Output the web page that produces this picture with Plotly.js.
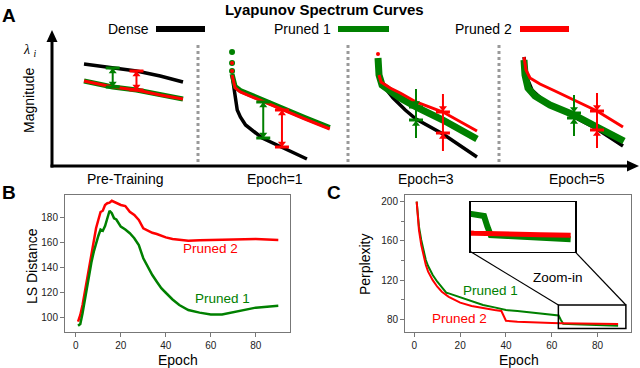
<!DOCTYPE html>
<html>
<head>
<meta charset="utf-8">
<script src="https://cdn.plot.ly/plotly-3.0.1.min.js"></script>
<style>
body { margin: 0; background: #fff; }
#chart { width: 640px; height: 368px; }
</style>
</head>
<body>
<div id="chart"></div>
<script>
// ---- panel A: Lyapunov spectra (index along spectrum, magnitude), one list per section
var sectionNames = ['Pre-Training', 'Epoch=1', 'Epoch=3', 'Epoch=5'];

var denseX = [[0, 29, 53, 77, 100],
              [1, 3, 6, 9, 14, 30, 49, 73],
              [1, 3, 8, 16, 28, 38.6, 65.3, 99],
              [0, 3, 8, 21, 50, 73, 99]];
var denseY = [[102, 98, 95, 90, 84],
              [91, 76, 56, 49, 41, 28, 19, 7],
              [106, 86, 78, 68, 56, 47, 32, 9],
              [109, 88, 76, 64, 49, 37, 20]];

var p1X = [[0, 29, 53, 77, 100],
           [1, 4, 9, 18, 31, 49, 71, 95],
           [1, 2, 5, 15, 23, 38.6, 65.3, 99],
           [0, 1, 4, 11, 26, 50, 73, 100]];
var p1Y = [[85, 79, 76, 71, 67],
           [92, 79.5, 75.5, 71.5, 65.5, 57.5, 48.5, 38.5],
           [108, 91, 81, 73, 68, 59, 46, 27],
           [106, 91, 78, 70, 61, 51, 39, 25]];

var p2X = [[0, 29, 53, 77, 100],
           [1, 4, 9, 18, 31, 49, 71, 95],
           [2, 4, 13, 23, 38.6, 65.3, 99],
           [0, 2, 6, 16, 31, 50, 73, 99]];
var p2Y = [[85, 79, 76, 71, 67],
           [91, 78, 74, 70, 64, 56, 47, 37],
           [91, 84, 78, 73, 64, 54, 35],
           [109, 96, 88, 82, 75, 66, 55, 39]];

// isolated largest exponents at the top of a spectrum
var topIdx = [0, 1, 1, 0];
var p1Top = [[], [114, 103, 95], [], []];
var p2Top = [[], [103, 95], [112], []];

// measured gaps between pruned and dense spectra
var gapSec = [0, 0, 1, 1, 2, 2, 3, 3];
var gapOf = ['p1', 'p2', 'p1', 'p2', 'p1', 'p2', 'p1', 'p2'];
var gapIdx = [29, 53, 31, 49, 38.6, 65.3, 50, 73];
var gapTop = [98, 95, 64, 56, 59, 54, 53, 55];
var gapBot = [79, 76, 28, 19, 46, 33, 48, 36];

// ---- panel B: LS distance vs epoch
var bEpoch = [1, 2, 3, 4, 5, 6, 7, 8, 9, 10, 11, 12, 13, 14, 15, 16, 17, 18, 20, 22, 24, 26, 28,
              30, 32, 34, 36, 38, 40, 43, 46, 50, 55, 60, 65, 70, 75, 80, 85, 90];
var bPruned1 = [93, 94.4, 103, 113.6, 124.3, 135, 144.3, 152.3, 159, 164.8, 170, 169, 172.8, 178, 185,
                183, 179, 178, 172.3, 170, 167, 163, 157.6, 147, 139.8, 133.6, 128.2, 123, 119.4,
                114, 109.6, 105.6, 103.5, 102.1, 102.1, 103.8, 105.6, 107.5, 108.3, 109];
var bPruned2 = [96.3, 101.6, 109.6, 120.3, 131, 140, 149.6, 160, 171, 177.6, 184, 185, 189.6, 191, 191.5,
                193, 192, 191, 189.6, 188.8, 184.2, 181.6, 177.6, 171, 169, 167.4, 166.4, 164.8, 163.7,
                162.4, 161.6, 161, 161.3, 161.6, 161.9, 162.1, 162.4, 162.4, 161.9, 161.6];

// ---- panel C: perplexity vs epoch
var cEpoch1 = [1, 2, 3, 4, 5, 6, 8, 10, 12, 14, 15, 20, 25, 30, 35, 40, 45, 50, 55, 60, 63, 64, 65, 70, 80, 89];
var cPruned1 = [200, 174.5, 160.9, 149, 140.5, 134.4, 125.2, 118.4, 112.6, 107.1, 106.5, 102.4, 98, 94.6,
                92.2, 89.5, 88.5, 87.1, 86.1, 84.7, 84, 79.3, 75.4, 75, 74.2, 73.5];
var cEpoch2 = [1, 2, 3, 4, 5, 6, 8, 10, 12, 15, 20, 25, 30, 35, 38, 39, 40, 45, 50, 60, 64, 70, 80, 89];
var cPruned2 = [200, 171, 155.8, 143.9, 135.4, 128.6, 120, 113.3, 108.2, 103, 97, 93.6, 91.2, 89.5, 88.5,
                82.7, 78.6, 77.6, 76.9, 76.2, 76, 76, 75.6, 75.3];

// zoomed region shown in the inset
var zoomEpochs = [62.9, 92.4];
var zoomPerplexity = [70.8, 94.6];

var GREEN = '#008000', RED = '#ff0000', BLACK = '#000000';
var FONT = 'Liberation Sans, Arial, sans-serif';

function px(x) { return x / 640; }
function py(y) { return 1 - y / 368; }

var traces = [];
var layout = {
  width: 640, height: 368,
  margin: {l: 0, r: 0, t: 0, b: 0},
  paper_bgcolor: '#fff', plot_bgcolor: 'rgba(0,0,0,0)',
  showlegend: false,
  font: {family: FONT, color: '#000'},
  shapes: [], annotations: []
};

// panel A sections
var secLeft = [84, 231, 377, 524];
var secWidth = [99, 104, 101, 100];
var pad = 6;
layout.yaxis = {domain: [py(166), py(40)], range: [0, 126], visible: false, anchor: 'x', fixedrange: true};

for (var k = 0; k < 4; k++) {
  var xa = k === 0 ? 'x' : 'x' + (k + 1);
  var key = k === 0 ? 'xaxis' : 'xaxis' + (k + 1);
  var s = secWidth[k] / 100;
  layout[key] = {domain: [px(secLeft[k] - pad * s), px(secLeft[k] + (100 + pad) * s)],
                 range: [-pad, 100 + pad], visible: false, anchor: 'y'};

  traces.push({x: denseX[k], y: denseY[k], xaxis: xa, yaxis: 'y', mode: 'lines',
               line: {color: BLACK, width: 3.5}});
  traces.push({x: p1X[k], y: p1Y[k], xaxis: xa, yaxis: 'y', mode: 'lines',
               line: {color: GREEN, width: k < 2 ? 5 : 7}});
  traces.push({x: p2X[k], y: p2Y[k], xaxis: xa, yaxis: 'y', mode: 'lines',
               line: {color: RED, width: 3}});
  if (p1Top[k].length) {
    traces.push({x: p1Top[k].map(function() { return topIdx[k]; }), y: p1Top[k], xaxis: xa, yaxis: 'y',
                 mode: 'markers', marker: {color: GREEN, size: 6}, cliponaxis: false});
  }
  if (p2Top[k].length) {
    traces.push({x: p2Top[k].map(function() { return topIdx[k]; }), y: p2Top[k], xaxis: xa, yaxis: 'y',
                 mode: 'markers', marker: {color: RED, size: 4}, cliponaxis: false});
  }
}

// gap bars with caps and arrows
for (var g = 0; g < gapIdx.length; g++) {
  var sec = gapSec[g];
  var xg = sec === 0 ? 'x' : 'x' + (sec + 1);
  var col = gapOf[g] === 'p1' ? GREEN : RED;
  var inner = sec < 2;
  var t = gapTop[g], b = gapBot[g], xi = gapIdx[g];
  traces.push({x: [xi, xi], y: inner ? [t, b] : [t + 18, b - 18], xaxis: xg, yaxis: 'y',
               mode: 'lines', line: {color: col, width: 2}});
  traces.push({x: [xi, xi], y: [t, b], xaxis: xg, yaxis: 'y', mode: 'markers', cliponaxis: false,
               marker: {symbol: 'line-ew', size: 10, line: {color: col, width: 3}}});
  traces.push({x: [xi, xi], y: inner ? [t - 3.5, b + 3.5] : [t + 4, b - 4], xaxis: xg, yaxis: 'y',
               mode: 'markers', cliponaxis: false,
               marker: {symbol: inner ? ['triangle-up', 'triangle-down'] : ['triangle-down', 'triangle-up'],
                        size: 7, color: col}});
}

// panel A axes with arrow heads
layout.shapes.push({type: 'line', xref: 'paper', yref: 'paper', x0: px(52), x1: px(52),
  y0: py(167.5), y1: py(40), line: {color: '#000', width: 3}});
layout.shapes.push({type: 'path', xref: 'paper', yref: 'paper', fillcolor: '#000', line: {width: 0},
  path: 'M' + px(52) + ',' + py(30) + ' L' + px(46.5) + ',' + py(42) + ' L' + px(57.5) + ',' + py(42) + ' Z'});
layout.shapes.push({type: 'line', xref: 'paper', yref: 'paper', x0: px(50.5), x1: px(628),
  y0: py(166), y1: py(166), line: {color: '#000', width: 3}});
layout.shapes.push({type: 'path', xref: 'paper', yref: 'paper', fillcolor: '#000', line: {width: 0},
  path: 'M' + px(639) + ',' + py(166) + ' L' + px(627) + ',' + py(160.5) + ' L' + px(627) + ',' + py(171.5) + ' Z'});

// dotted separators
[198, 348, 499].forEach(function(xs) {
  layout.shapes.push({type: 'line', xref: 'paper', yref: 'paper', x0: px(xs), x1: px(xs),
    y0: py(45), y1: py(165), line: {color: '#999', width: 3, dash: 'dot'}});
});

// legend of panel A
var legNames = ['Dense', 'Pruned 1', 'Pruned 2'];
var legColors = [BLACK, GREEN, RED];
var legText = [128, 302, 483];
var legBar = [[156, 205], [338, 389], [520, 569]];
for (var i = 0; i < 3; i++) {
  layout.annotations.push({xref: 'paper', yref: 'paper', x: px(legText[i]), y: py(29),
    text: legNames[i], showarrow: false, font: {size: 14}, xanchor: 'center', yanchor: 'middle'});
  layout.shapes.push({type: 'line', xref: 'paper', yref: 'paper', x0: px(legBar[i][0]), x1: px(legBar[i][1]),
    y0: py(29), y1: py(29), line: {color: legColors[i], width: 6}});
}

function label(text, x, y, opts) {
  var a = {xref: 'paper', yref: 'paper', x: px(x), y: py(y), text: text, showarrow: false,
           xanchor: 'center', yanchor: 'middle', font: {size: 14}};
  for (var p in opts) a[p] = opts[p];
  layout.annotations.push(a);
}

label('<b>Lyapunov Spectrum Curves</b>', 324, 9, {font: {size: 15}});
label('<b>A</b>', 9, 16, {font: {size: 19}});
label('<b>B</b>', 9, 192, {font: {size: 19}});
label('<b>C</b>', 334, 192, {font: {size: 19}});
label('<i>λ</i> <sub><i>i</i></sub>', 30, 50, {font: {size: 14, family: 'Liberation Serif, serif'}});
label('Magnitude', 29, 100, {textangle: -90});
var secLabelX = [125, 275, 426, 577];
for (var j = 0; j < 4; j++) label(sectionNames[j], secLabelX[j], 179);

// panel B
var axStyle = {showline: true, mirror: true, linecolor: '#777', linewidth: 1, showgrid: false,
               zeroline: false, ticks: 'outside', ticklen: 4, tickcolor: '#777',
               tickfont: {size: 10, color: '#222'}, fixedrange: true};
function ax(extra) { var o = {}; for (var p in axStyle) o[p] = axStyle[p]; for (var q in extra) o[q] = extra[q]; return o; }

layout.xaxis5 = ax({domain: [px(65), px(290)], range: [-4.8, 95.2], anchor: 'y2', tickvals: [0, 20, 40, 60, 80]});
layout.yaxis2 = ax({domain: [py(332), py(195)], range: [88, 197.6], anchor: 'x5', tickvals: [100, 120, 140, 160, 180]});
traces.push({x: bEpoch, y: bPruned2, xaxis: 'x5', yaxis: 'y2', mode: 'lines', line: {color: RED, width: 2.5}});
traces.push({x: bEpoch, y: bPruned1, xaxis: 'x5', yaxis: 'y2', mode: 'lines', line: {color: GREEN, width: 2.5}});
label('Pruned 2', 210, 248, {font: {size: 13.5, color: RED}});
label('Pruned 1', 222.5, 298.5, {font: {size: 13.5, color: GREEN}});
label('LS Distance', 32, 266, {textangle: -90});
label('Epoch', 177.5, 360);

// panel C
var cDomX = [px(405), px(630.7)], cRangeX = [-4.1, 94.5];
var cDomY = [py(332.3), py(195)], cRangeY = [66.8, 206.8];
layout.xaxis6 = ax({domain: cDomX, range: cRangeX, anchor: 'y3', tickvals: [0, 20, 40, 60, 80]});
layout.yaxis3 = ax({domain: cDomY, range: cRangeY, anchor: 'x6', tickvals: [80, 120, 160, 200],
                    minor: {tickvals: [100, 140, 180], ticks: 'outside', ticklen: 3, tickcolor: '#777'}});
traces.push({x: cEpoch1, y: cPruned1, xaxis: 'x6', yaxis: 'y3', mode: 'lines', line: {color: GREEN, width: 2}});
traces.push({x: cEpoch2, y: cPruned2, xaxis: 'x6', yaxis: 'y3', mode: 'lines', line: {color: RED, width: 2}});
label('Pruned 1', 490.8, 290, {font: {size: 13.5, color: GREEN}});
label('Pruned 2', 459, 318, {font: {size: 13.5, color: RED}});
label('Zoom-in', 558, 277, {font: {size: 13.5}});
label('Perplexity', 365, 265, {textangle: -90});
label('Epoch', 518.5, 360);

// inset
var inDomX = [px(470.7), px(575)], inDomY = [py(251.7), py(202.3)];
layout.xaxis7 = {domain: inDomX, range: [59, 90.3], anchor: 'y4', showline: true, mirror: true,
                 linecolor: '#000', linewidth: 1.5, showticklabels: false, ticks: '', showgrid: false, zeroline: false};
layout.yaxis4 = {domain: inDomY, range: [67.9, 90.2], anchor: 'x7', showline: true, mirror: true,
                 linecolor: '#000', linewidth: 1.5, showticklabels: false, ticks: '', showgrid: false, zeroline: false};
traces.push({x: cEpoch1, y: cPruned1, xaxis: 'x7', yaxis: 'y4', mode: 'lines', line: {color: GREEN, width: 6}});
traces.push({x: cEpoch2, y: cPruned2, xaxis: 'x7', yaxis: 'y4', mode: 'lines', line: {color: RED, width: 5}});

layout.shapes.push({type: 'rect', xref: 'x6', yref: 'y3', x0: zoomEpochs[0], x1: zoomEpochs[1],
  y0: zoomPerplexity[0], y1: zoomPerplexity[1], line: {color: '#000', width: 1.5}});
function cx(v) { return cDomX[0] + (v - cRangeX[0]) / (cRangeX[1] - cRangeX[0]) * (cDomX[1] - cDomX[0]); }
function cy(v) { return cDomY[0] + (v - cRangeY[0]) / (cRangeY[1] - cRangeY[0]) * (cDomY[1] - cDomY[0]); }
layout.shapes.push({type: 'line', xref: 'paper', yref: 'paper', x0: inDomX[0], y0: inDomY[0],
  x1: cx(zoomEpochs[0]), y1: cy(zoomPerplexity[1]), line: {color: '#000', width: 1.2}});
layout.shapes.push({type: 'line', xref: 'paper', yref: 'paper', x0: inDomX[1], y0: inDomY[0],
  x1: cx(zoomEpochs[1]), y1: cy(zoomPerplexity[1]), line: {color: '#000', width: 1.2}});

traces.forEach(function(tr) { tr.hoverinfo = 'skip'; });

Plotly.newPlot('chart', traces, layout, {displayModeBar: false, staticPlot: true});
</script>
</body>
</html>
